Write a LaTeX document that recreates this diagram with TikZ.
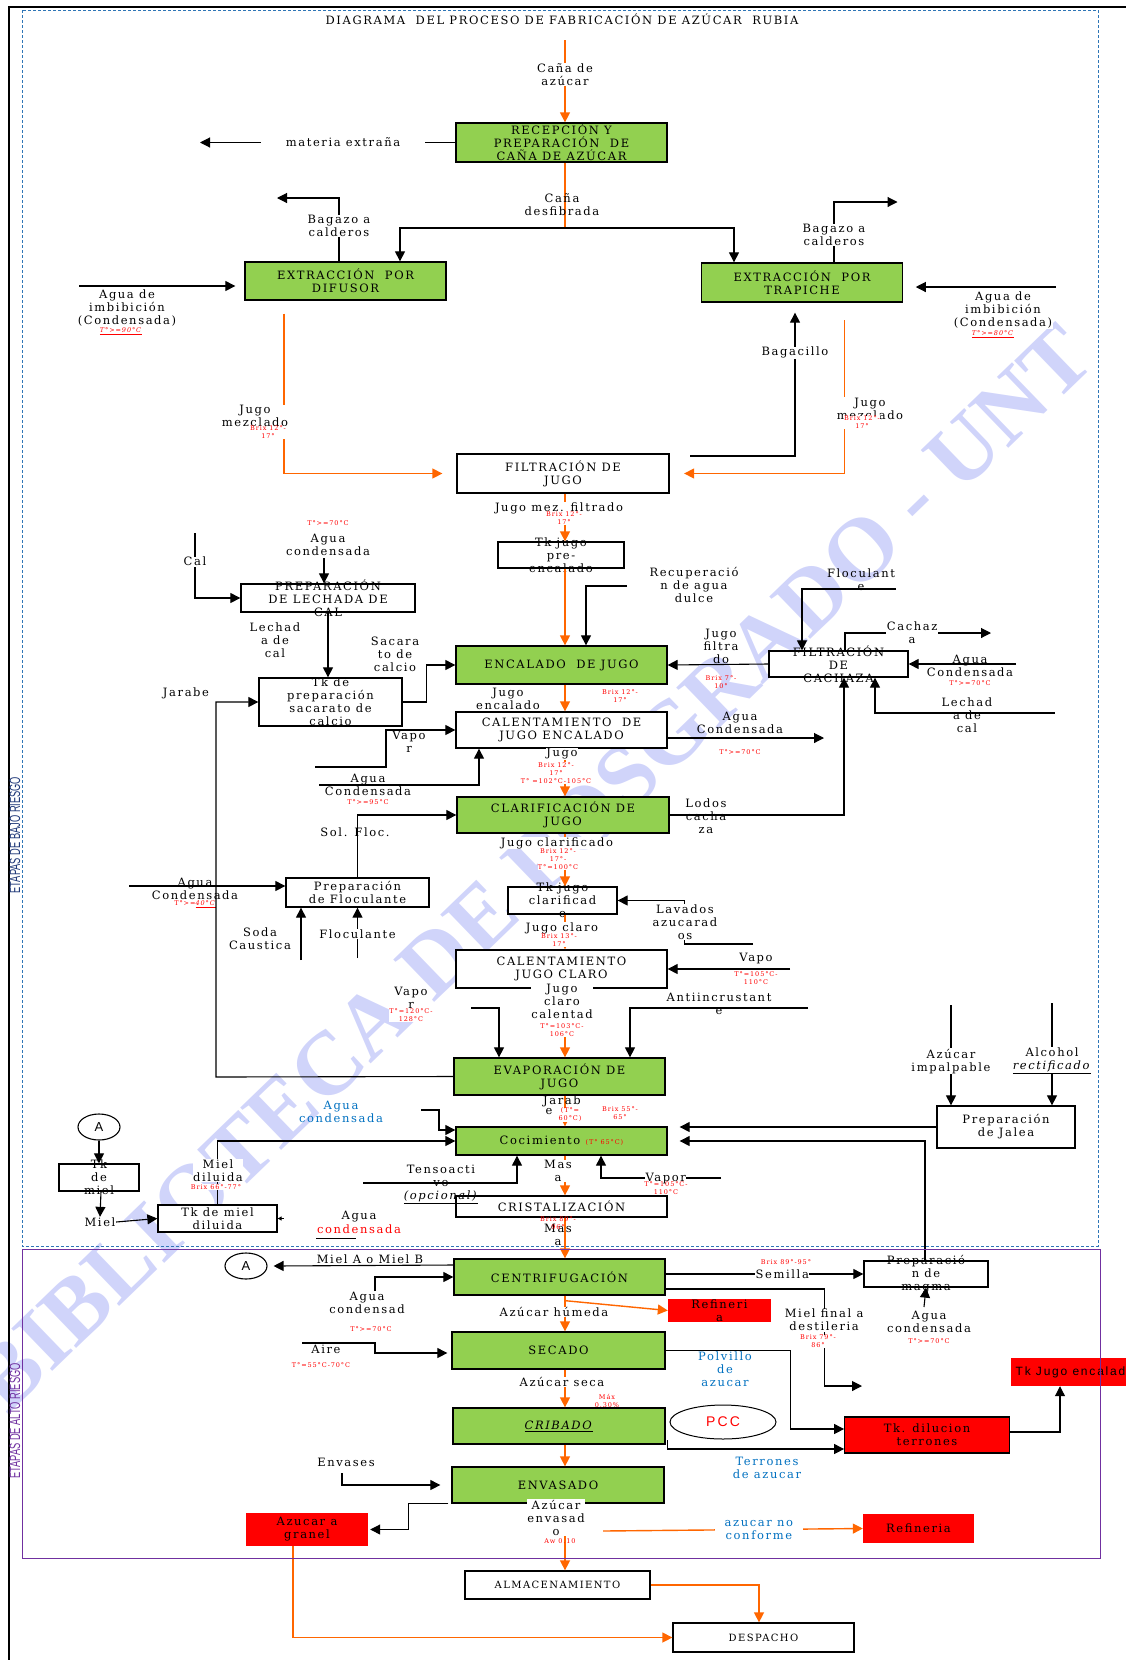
\documentclass[tikz,border=0pt]{standalone}
\usepackage{fontspec}
\setmainfont{DejaVu Serif}[LetterSpace=14]
\newfontfamily\sansfam{Liberation Sans}[LetterSpace=15]
\newfontfamily\sidefam{Liberation Sans}
\newfontfamily\wmfam{Liberation Serif}
\usepackage{tikz}
\usetikzlibrary{arrows.meta, shapes.geometric}
\definecolor{procgreen}{RGB}{146,208,80}
\definecolor{flowor}{RGB}{255,102,0}
\definecolor{lblblue}{RGB}{0,112,192}
\definecolor{frameblue}{RGB}{46,117,182}
\definecolor{framepurple}{RGB}{112,48,160}
\definecolor{sidenavy}{RGB}{31,56,120}
\definecolor{wmark}{RGB}{208,212,250}
\newcommand{\bodyfs}{\fontsize{11.5}{13}\selectfont}
\newcommand{\notefs}{\fontsize{6.5}{8}\selectfont}
\tikzset{
  proc/.style={draw, line width=1.3pt, fill=procgreen, align=center, inner sep=1pt, font=\bodyfs},
  wbox/.style={draw, line width=1.3pt, fill=white, align=center, inner sep=1pt, font=\bodyfs},
  rbox/.style={fill=red, align=center, inner sep=1pt, font=\bodyfs},
  lbl/.style={align=center, inner sep=0.5pt, font=\bodyfs},
  gap/.style={lbl, fill=white},
  note/.style={align=center, inner sep=0.3pt, font=\notefs, text=red},
  notew/.style={note, fill=white},
  bnote/.style={lbl, text=lblblue},
  conn/.style={line width=1.1pt, arrows={-Triangle[length=10pt, width=10pt]}},
  flow/.style={line width=1.4pt, draw=flowor, arrows={-Triangle[length=10pt, width=10pt]}},
  flowline/.style={line width=1.4pt, draw=flowor},
  tag/.style={draw, ellipse, line width=1.1pt, minimum width=42pt, minimum height=26pt, inner sep=0pt, font=\sansfam\fontsize{13}{13}\selectfont},
  sidetitle/.style={rotate=90, font=\sidefam\fontsize{15}{15}\selectfont},
}

\begin{document}
\begin{tikzpicture}[x=1pt, y=-1pt]
  \useasboundingbox (0,0) rectangle (1126,1660);

  % Watermark behind everything.
  \begin{scope}
    \clip (0,0) rectangle (1126,1660);
    \node[rotate=44, text=wmark, font=\wmfam\bfseries\fontsize{90}{90}\selectfont] (wm) at (532,868) {BIBLIOTECA DE POSGRADO - UNT};
  \end{scope}

  \node[lbl] (title) at (562,19) {DIAGRAMA\ \ DEL PROCESO DE FABRICACIÓN DE AZÚCAR\ \ RUBIA};

  % Draw process boxes.
  \node[proc, minimum width=211pt, minimum height=39pt] (rec) at (561.5,142.5) {RECEPCIÓN Y\\PREPARACIÓN\ \ DE\\CAÑA DE AZÚCAR};
  \node[proc, minimum width=201pt, minimum height=38pt] (dif) at (345.5,281) {EXTRACCIÓN\ \ POR\\DIFUSOR};
  \node[proc, minimum width=201pt, minimum height=39pt] (tra) at (802,282.5) {EXTRACCIÓN\ \ POR\\TRAPICHE};
  \node[wbox, minimum width=212pt, minimum height=39pt] (fil) at (563,473.5) {FILTRACIÓN DE\\JUGO};
  \node[wbox, minimum width=126pt, minimum height=26pt, label={[lbl]center:{Tk jugo\\pre-\\encalado}}] (tkpre) at (561,555) {};
  \node[wbox, minimum width=174pt, minimum height=28pt, label={[lbl]center:{PREPARACIÓN\\DE LECHADA DE\\CAL}}] (lech) at (328,598) {};
  \node[wbox, minimum width=143pt, minimum height=48pt, label={[lbl]center:{Tk de\\preparación\\sacarato de\\calcio}}] (tksac) at (330.5,702) {};
  \node[proc, minimum width=211pt, minimum height=38pt] (enc) at (561.5,665) {ENCALADO\ \ DE JUGO};
  \node[wbox, minimum width=139pt, minimum height=26pt, label={[lbl]center:{FILTRACIÓN\\DE\\CACHAZA}}] (cach) at (838.5,664) {};
  \node[wbox, minimum width=211pt, minimum height=36pt] (cal1) at (561.5,730) {CALENTAMIENTO\ \ DE\\JUGO ENCALADO};
  \node[proc, minimum width=212pt, minimum height=36pt] (cla) at (563,815) {CLARIFICACIÓN DE\\JUGO};
  \node[wbox, minimum width=143pt, minimum height=29pt] (flo) at (357.5,892.5) {Preparación\\de Floculante};
  \node[wbox, minimum width=109pt, minimum height=27pt, label={[lbl]center:{Tk jugo\\clarificad\\o}}] (tkcla) at (562.5,900.5) {};
  \node[wbox, minimum width=211pt, minimum height=38pt] (cal2) at (561.5,969) {CALENTAMIENTO\\JUGO CLARO};
  \node[proc, minimum width=211pt, minimum height=37pt] (eva) at (559.5,1076.5) {EVAPORACIÓN DE\\JUGO};
  \node[proc, minimum width=211pt, minimum height=28pt] (coc) at (561.5,1141) {Cocimiento {\notefs\color{red}(T° 65°C)}};
  \node[wbox, minimum width=211pt, minimum height=21pt] (cri) at (561.5,1206.5) {CRISTALIZACIÓN};
  \node[proc, minimum width=211pt, minimum height=36pt] (cen) at (559.5,1277) {CENTRIFUGACIÓN};
  \node[proc, minimum width=213pt, minimum height=37pt] (sec) at (558.5,1350.5) {SECADO};
  \node[proc, minimum width=212pt, minimum height=36pt] (crib) at (559,1426) {\underline{\textit{CRIBADO}}};
  \node[proc, minimum width=212pt, minimum height=36pt] (env) at (558,1485) {ENVASADO};
  \node[wbox, minimum width=185pt, minimum height=28pt, font=\fontsize{10}{12}\selectfont] (alm) at (557.5,1585) {ALMACENAMIENTO};
  \node[wbox, minimum width=181pt, minimum height=29pt, font=\fontsize{10}{12}\selectfont] (des) at (763.5,1637.5) {DESPACHO};
  \node[wbox, minimum width=138pt, minimum height=42pt] (jal) at (1006,1127) {Preparación\\de Jalea};
  \node[wbox, minimum width=124pt, minimum height=26pt, label={[lbl]center:{Preparació\\n de\\magma}}] (mag) at (926,1274) {};
  \node[wbox, minimum width=80pt, minimum height=27pt, label={[lbl]center:{Tk\\de\\miel}}] (tkmiel) at (99,1177.5) {};
  \node[wbox, minimum width=119pt, minimum height=27pt] (tkdil) at (217.5,1218.5) {Tk de miel\\diluida};
  \node[rbox, minimum width=103pt, minimum height=23pt, label={[lbl]center:{Refineri\\a}}] (refa) at (719.5,1310.5) {};
  \node[rbox, draw, line width=1.3pt, minimum width=164.5pt, minimum height=36pt] (tkdt) at (927,1435) {Tk. dilucion\\terrones};
  \begin{scope}
    \clip (0,0) rectangle (1126,1660);
    \node[rbox, anchor=west, minimum height=28pt, inner xsep=5pt, font=\sansfam\fontsize{12}{13}\selectfont] (tkje) at (1010.5,1372) {Tk Jugo encalado};
  \end{scope}
  \node[rbox, minimum width=122pt, minimum height=33pt] (gran) at (307,1529.5) {Azucar a\\granel};
  \node[rbox, minimum width=111pt, minimum height=29pt] (refb) at (918.5,1528.5) {Refineria};
  \node[draw, ellipse, line width=1pt, minimum width=106pt, minimum height=34pt, inner sep=0pt, text=red, font=\sansfam\fontsize{14}{14}\selectfont] (pcc) at (723,1422) {PCC};
  \node[tag] (A1) at (99,1127) {A};
  \node[tag] (A2) at (246,1266) {A};

  % Main juice line.
  \coordinate (mx) at (565,0);
  \coordinate (cin) at (565,40);
  \draw[flow] (cin) -- (rec.north -| mx) node[gap, pos=0.42] {Caña de\\azúcar};
  \coordinate (jdes) at (565,228);
  \draw[flowline] (rec.south -| mx) -- (jdes);
  \node[lbl] at (562,204.5) {Caña\\desfibrada};
  \draw[conn] (jdes) -| ([xshift=54.5pt]dif.north);
  \draw[conn] (jdes) -| ([xshift=-68pt]tra.north);
  \coordinate (mex) at (200,142.5);
  \draw[conn] (rec.west) -- (mex) node[gap, pos=0.44, inner xsep=25pt] {materia extraña};

  % Extraction side streams.
  \coordinate (bagL) at (277,198);
  \draw[conn] ([xshift=-6.5pt]dif.north) |- (bagL) node[gap, pos=0.28] {Bagazo a\\calderos};
  \coordinate (bagR) at (897.5,202);
  \draw[conn] ([xshift=32pt]tra.north) |- (bagR) node[gap, pos=0.225] {Bagazo a\\calderos};
  \coordinate (imbL) at (79,286);
  \draw[conn] (imbL) -- ([xshift=-9pt,yshift=-5pt]dif.west);
  \node[lbl] at (127,308) {Agua de\\imbibición\\(Condensada)};
  \node[note] at (121,331) {\underline{\textit{T°>=90°C}}};
  \coordinate (imbR) at (1056,287);
  \draw[conn] (imbR) -- ([xshift=12.6pt,yshift=-4.5pt]tra.east);
  \node[gap] at (1003,310) {Agua de\\imbibición\\(Condensada)};
  \node[note] at (993,334) {\underline{\textit{T°>=80°C}}};

  % Mixed juice to filtration.
  \draw[flow] ([xshift=-61.5pt,yshift=-13pt]dif.south) |- ([xshift=-14pt]fil.west);
  \node[gap] at (255,416) {Jugo\\mezclado};
  \node[notew] at (268,432.5) {Brix 12°-\\17°};
  \draw[flow] ([xshift=42.5pt,yshift=-17.5pt]tra.south) |- ([xshift=14.5pt]fil.east);
  \node[gap] at (870,408.5) {Jugo\\mezclado};
  \node[notew] at (862,422.5) {Brix 12°-\\17°};
  \coordinate (bgc) at (690,456);
  \draw[conn] (bgc) -| ([xshift=-7pt,yshift=-10pt]tra.south) node[gap, pos=0.86] {Bagacillo};

  % Filtration to liming.
  \draw[flow] (fil.south -| mx) -- (tkpre.north -| mx);
  \node[gap] at (559,508) {Jugo mez. filtrado};
  \node[notew] at (564,518.5) {Brix 12°-\\17°};
  \draw[flow] (tkpre.south -| mx) -- (enc.north -| mx);

  % Milk of lime.
  \coordinate (calin) at (195,533);
  \draw[conn] (calin) |- (lech.west) node[gap, pos=0.22] {Cal};
  \coordinate (aglech) at (324,558);
  \draw[conn] (aglech) -- ([xshift=-4pt]lech.north);
  \node[note] at (328,523) {T°>=70°C};
  \node[lbl] at (328,544.5) {Agua\\condensada};
  \draw[conn] (lech.south) -- (lech.south |- tksac.north);
  \node[lbl] at (275,640) {Lechad\\a de\\cal};
  \draw[conn] (tksac.east) -- ++(24,0) |- (enc.west);
  \node[lbl] at (395,654) {Sacara\\to de\\calcio};
  \coordinate (recag) at (627,586);
  \draw[conn] (recag) -| ([xshift=24.5pt]enc.north);
  \node[lbl] at (694,585) {Recuperació\\n de agua\\dulce};

  % Filter cake.
  \draw[conn] (cach.west) -- (enc.east);
  \node[lbl] at (721,646) {Jugo\\filtra\\do};
  \node[note] at (721,682) {Brix 7°-\\10°};
  \coordinate (flocR) at (896,589);
  \draw[conn] (flocR) -| ([xshift=-36.5pt]cach.north);
  \node[lbl] at (861,579.5) {Floculant\\e};
  \coordinate (cachout) at (991,633);
  \draw[conn] ([xshift=6.5pt]cach.north) |- (cachout) node[gap, pos=0.73] {Cachaz\\a};
  \coordinate (agcach) at (1016,664);
  \draw[conn] (agcach) -- (cach.east);
  \node[lbl] at (970,665.5) {Agua\\Condensada};
  \node[note] at (970,683) {T°>=70°C};
  \coordinate (lechR) at (1054.6,713);
  \draw[conn] (lechR) -| ([xshift=36.5pt]cach.south);
  \node[lbl] at (967,715) {Lechad\\a de\\cal};
  \draw[conn] (cla.east) -| ([xshift=5.5pt]cach.south);
  \node[lbl] at (706,816) {Lodos\\cacha\\za};

  % Heating of limed juice.
  \draw[flow] (enc.south -| mx) -- (cal1.north -| mx);
  \node[lbl] at (508,699) {Jugo\\encalado};
  \node[note] at (620,696) {Brix 12°-\\17°};
  \coordinate (agcal) at (824,738);
  \draw[conn] ([yshift=-8pt]cal1.east) -- (agcal);
  \node[lbl] at (740,722.5) {Agua\\Condensada};
  \node[note] at (740,752) {T°>=70°C};
  \coordinate (vap1) at (315,767);
  \draw[conn] (vap1) -- ++(71,0) |- (cal1.west);
  \node[lbl] at (409,741.5) {Vapo\\r};
  \coordinate (ag95) at (319,785);
  \draw[conn] (ag95) -| ([xshift=-82.5pt]cal1.south);
  \node[lbl] at (368,785) {Agua\\Condensada};
  \node[note] at (368,802) {T°>=95°C};
  \draw[flow] (cal1.south -| mx) -- (cla.north -| mx);
  \node[gap] at (562,754) {Jugo};
  \node[notew] at (556,773) {Brix 12°-\\17°\\T° =102°C-105°C};

  % Flocculant.
  \draw[conn] (flo.north) |- (cla.west);
  \node[lbl] at (355,832) {Sol. Floc.};
  \coordinate (agflo) at (129,886);
  \draw[conn] (agflo) -- ([yshift=6.5pt]flo.west);
  \node[lbl] at (195,889) {Agua\\Condensada};
  \node[note] at (195,904) {T°>=\underline{\textit{40°C}}};
  \coordinate (soda) at (301,960);
  \draw[conn] (soda) -- ([xshift=-56.5pt]flo.south);
  \node[lbl] at (260,938.5) {Soda\\Caustica};
  \coordinate (flocin) at (357.5,958);
  \draw[conn] (flocin) -- (flo.south) node[gap, pos=0.47] {Floculante};
  \coordinate (jar) at (216,1077);
  \draw[conn] (eva.west) -- (jar) |- (tksac.west);
  \node[lbl] at (186,693) {Jarabe};

  % Clear juice.
  \draw[flow] (cla.south -| mx) -- (tkcla.north -| mx);
  \node[gap] at (557,843) {Jugo clarificado};
  \node[notew] at (558,859) {Brix 12°-\\17°-\\T°=100°C};
  \coordinate (lav) at (753,944);
  \draw[conn] (lav) -- ++(-68.5,0) |- (tkcla.east);
  \node[gap] at (685,922) {Lavados\\azucarad\\os};
  \draw[flow] (tkcla.south -| mx) -- (cal2.north -| mx);
  \node[gap] at (562,928) {Jugo claro};
  \node[notew] at (559,940.5) {Brix 13°-\\17°};
  \coordinate (vap2) at (790,969);
  \draw[conn] (vap2) -- (cal2.east);
  \node[lbl] at (756,958) {Vapo};
  \node[note] at (756,978.5) {T°=105°C-\\110°C};

  % Evaporation.
  \draw[flow] (cal2.south -| mx) -- (eva.north -| mx);
  \node[gap] at (562,1007.5) {Jugo\\claro\\calentad\\o};
  \node[notew] at (562,1030.5) {T°=103°C-\\106°C};
  \coordinate (vap3) at (471,1008);
  \draw[conn] (vap3) -| ([xshift=-60.5pt]eva.north);
  \node[gap] at (411,997.5) {Vapo\\r};
  \node[notew] at (411,1015) {T°=120°C-\\128°C};
  \coordinate (anti) at (808,1008);
  \draw[conn] (anti) -| ([xshift=70.5pt]eva.north);
  \node[lbl] at (719,1003.5) {Antiincrustant\\e};

  % Boiling.
  \draw[flow] (eva.south -| mx) -- (coc.north -| mx);
  \node[lbl] at (562,1101) {Jarab};
  \node[lbl] at (549,1112) {e};
  \node[notew] at (570,1115) {(T°=\\60°C)};
  \node[note] at (620,1113) {Brix 55°-\\65°};
  \coordinate (agb) at (421,1110);
  \draw[conn] (agb) -- ++(18,0) |- ([yshift=11pt]coc.west);
  \node[bnote] at (341,1111.5) {Agua\\condensada};
  \draw[conn] (tkdil.north) |- (coc.west);
  \node[gap] at (218,1170.5) {Miel\\diluida};
  \node[notew] at (216,1187) {Brix 66°-77°};
  \coordinate (tens) at (363,1183);
  \draw[conn] (tens) -| ([xshift=-44.5pt]coc.south);
  \node[lbl] at (441,1184) {Tensoacti\\vo\\\underline{\textit{(opcional)}}};
  \coordinate (vap4) at (721,1178);
  \draw[conn] (vap4) -| ([xshift=39.5pt]coc.south) node[gap, pos=0.23] {Vapor};
  \node[note] at (666,1188.5) {T°=105°C-\\110°C};
  \draw[conn] (jal.west) -- ([xshift=12pt,yshift=14pt]coc.east);
  \draw[conn] ([xshift=-1pt]mag.north) |- ([xshift=12pt]coc.east);
  \coordinate (azimp) at (951,1005);
  \draw[conn] (azimp) -- ([xshift=-55pt]jal.north) node[gap, pos=0.56] {Azúcar\\impalpable};
  \coordinate (alco) at (1052,1003);
  \draw[conn] (alco) -- ([xshift=46pt]jal.north) node[gap, pos=0.56] {Alcohol\\\underline{\textit{rectificado}}};
  \draw[flow] (coc.south -| mx) -- (cri.north -| mx);
  \node[gap] at (558,1171) {Mas\\a};

  % Molasses loop.
  \draw[conn] (A1.south) -- (tkmiel.north);
  \node[lbl] (mielt) at (100,1222) {Miel};
  \draw[conn] ([xshift=2pt]tkmiel.south) -- (mielt.north);
  \draw[conn] (mielt.east) -- (tkdil.west);
  \draw[line width=1pt, arrows={-Triangle[length=4pt, width=4pt]}] ([xshift=6pt]tkdil.east) -- (tkdil.east);
  \node[lbl] at (359,1217) {Agua};
  \node[lbl, text=red] at (359,1229) {condensada};
  \draw[line width=1pt] (316,1238) -- (356,1238);

  % Centrifuge.
  \draw[flow] (cri.south -| mx) -- (cen.north -| mx);
  \node[lbl] at (558,1234.5) {Mas\\a};
  \node[note] at (558,1223) {Brix 89°-\\96°};
  \draw[conn] ([yshift=12pt]cen.west) -- ([xshift=6pt]A2.east);
  \node[lbl] at (370,1259) {Miel A o Miel B};
  \coordinate (agc) at (375,1291);
  \draw[conn] (agc) |- (cen.west);
  \node[lbl] at (367,1303) {Agua\\condensad};
  \node[note] at (371,1329) {T°>=70°C};
  \draw[flow] (cen.south -| mx) -- (sec.north -| mx);
  \path (cen.south -| mx) ++(0,5) coordinate (cenr);
  \draw[flow] (cenr) -- (refa.west);
  \node[gap] at (554,1312) {Azúcar húmeda};
  \node[note] at (786,1262) {Brix 89°-95°};
  \draw[conn] ([yshift=3pt]cen.east) -- (mag.west) node[gap, pos=0.59] {Semilla};
  \coordinate (mfin) at (862,1386);
  \draw[conn] ([yshift=-12pt]cen.east) -- ++(158.5,0) |- (mfin) node[gap, pos=0.16] {Miel final a\\destileria};
  \node[notew] at (818,1341.5) {Brix 79°-\\86°};
  \coordinate (agmag) at (924,1307);
  \draw[conn] (agmag) -- (mag.south);
  \node[lbl] at (929,1322) {Agua\\condensada};
  \node[note] at (929,1341) {T°>=70°C};

  % Drying, screening, packing.
  \coordinate (aire) at (302,1343);
  \draw[conn] (aire) -- ++(73,0) |- ([xshift=-4pt,yshift=-2.5pt]sec.west);
  \node[lbl] at (326,1349) {Aire};
  \node[note] at (321,1365) {T°=55°C-70°C};
  \draw[conn] (sec.east) -- ++(125,0) |- ([yshift=6pt]tkdt.west);
  \node[bnote] at (725,1369) {Polvillo\\de\\azucar};
  \draw[flow] (sec.south -| mx) -- (crib.north -| mx);
  \node[gap] at (562,1382) {Azúcar seca};
  \node[note] at (607,1400.5) {Máx\\0.30\%};
  \draw[flow] (crib.south -| mx) -- (env.north -| mx);
  \draw[conn] ([xshift=2pt,yshift=-14pt]crib.east) -- ++(0,9) -- ([yshift=-14pt]tkdt.west);
  \node[bnote] at (767,1468) {Terrones\\de azucar};
  \draw[conn] ([yshift=3pt]tkdt.east) -| ([xshift=49.5pt]tkje.south west);
  \coordinate (envs) at (342,1473);
  \draw[conn] (envs) |- ([xshift=-11pt]env.west);
  \node[lbl] at (346,1462) {Envases};
  \draw[conn] ([xshift=-3pt]env.south west) -- ++(-40,0) |- ([xshift=2pt]gran.east);
  \draw[flow] (env.south -| mx) -- (alm.north -| mx);
  \node[gap] at (556,1517.5) {Azúcar\\envasad\\o};
  \node[note] at (560,1541) {Aw 0.10};
  \coordinate (nconf) at (603,1531);
  \draw[flow] (nconf) -- (refb.west) node[bnote, fill=white, pos=0.6, inner xsep=10pt] {azucar no\\conforme};
  \draw[flow] (alm.east) -| ([xshift=-4.5pt]des.north);
  \draw[flow] ([xshift=-14pt]gran.south) |- (des.west);

  % Frames and stage titles.
  \draw[line width=1.3pt] (9,1660) -- (9,7) -- (1126,7);
  \draw[frameblue, line width=0.8pt, dash pattern=on 3pt off 2pt] (22,10) rectangle (1098,1246);
  \draw[framepurple, line width=1pt] (22,1249) rectangle (1100,1558);
  \node[sidetitle, text=sidenavy] (bajo) at (15,835) {\scalebox{0.62}[1]{ETAPAS DE BAJO RIESGO}};
  \node[sidetitle, text=framepurple] (alto) at (15,1421) {\scalebox{0.62}[1]{ETAPAS DE ALTO RIESGO}};
\end{tikzpicture}
\end{document}
